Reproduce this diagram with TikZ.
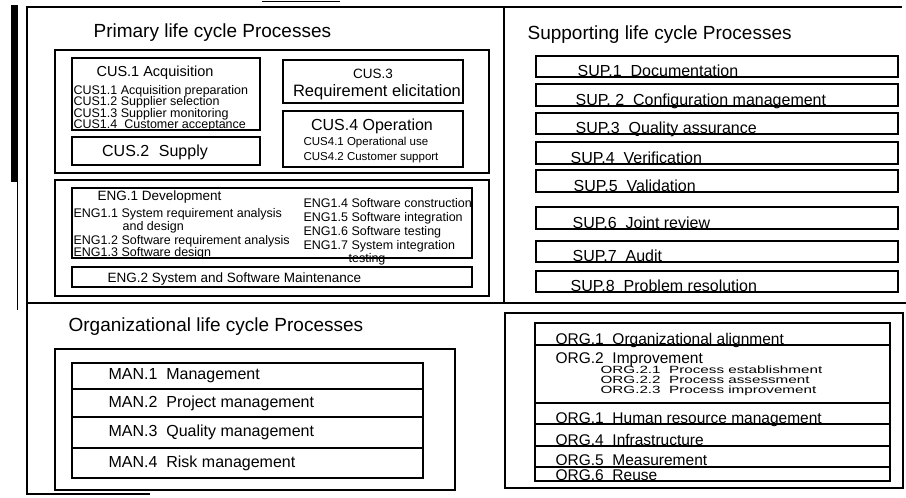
\documentclass[tikz,border=0pt]{standalone}
\usepackage{fontspec}
\setmainfont{Liberation Sans}
\usepackage{graphicx}

\tikzset{
	ttl/.style={font=\fontsize{19}{21}\selectfont, anchor=west, inner sep=0pt},
	big/.style={font=\fontsize{16}{18}\selectfont, inner sep=0pt},
	sml/.style={font=\fontsize{12.5}{14}\selectfont, anchor=base west, inner sep=0pt},
}

\begin{document}
\begin{tikzpicture}[x=1pt, y=-1pt, line width=1.2pt]
		\useasboundingbox (0,0) rectangle (906,498);
		% scan edge
		\fill (11,5) rectangle (18,182);
		\draw[line width=.7pt] (17,182) -- (17,310);
		\draw (262,1.5) -- (340,1.5);
		% frame
		\draw (902,7) -- (27,7) -- (27,494) -- (150,494);
		\draw (504,7) -- (504,303);
		\draw (27,303) -- (906,303);

		% primary
		\node[ttl] (prim) at (93,33) {Primary life cycle Processes};
		\draw (55,50) rectangle (489,173);
		\draw (72,58) rectangle (260,130);
		\node[big, font=\fontsize{14.5}{16}\selectfont] (cus1) at (155,73) {CUS.1 Acquisition};
		\foreach \t [count=\i] in {CUS1.1 Acquisition preparation, CUS1.2 Supplier selection, CUS1.3 Supplier monitoring, CUS1.4~~Customer acceptance}
		{
			\node[sml] (cus1\i) at (73, 82.5+11.5*\i) {\t};
		}
		\draw (72,137) rectangle (260,165);
		\node[big] (cus2) at (155,152) {CUS.2\hspace{.6em}Supply};
		\draw (283,60) rectangle (463,103);
		\node[big, font=\fontsize{13.5}{15}\selectfont] (cus3) at (373,74) {CUS.3};
		\node[big, font=\fontsize{16.5}{18}\selectfont] (req) at (377,92) {Requirement elicitation};
		\draw (283,111) rectangle (463,167);
		\node[big] (cus4) at (372,126) {CUS.4 Operation};
		\node[sml, font=\fontsize{11.5}{13}\selectfont] (cus41) at (303,145) {CUS4.1 Operational use};
		\node[sml, font=\fontsize{11.5}{13}\selectfont] (cus42) at (303,160) {CUS4.2 Customer support};

		\draw (55,180) rectangle (489,296);
		\draw (72,188) rectangle (472,258);
		\node[sml, font=\fontsize{13.5}{15}\selectfont] (eng1) at (97,200) {ENG.1 Development};
		\foreach \x/\y/\t [count=\i] in {73/217/ENG1.1 System requirement analysis, 122/230/and design, 73/244/ENG1.2 Software requirement analysis, 73/256/ENG1.3 Software design, 303/207/ENG1.4 Software construction, 303/221/ENG1.5 Software integration, 303/235/ENG1.6 Software testing, 303/249/ENG1.7 System integration, 348/262/testing}
		{
			\node[sml] (engl\i) at (\x,\y) {\t};
		}
		\draw (72,267) rectangle (472,287);
		\node[sml, font=\fontsize{13.5}{15}\selectfont] (eng2) at (107,282) {ENG.2 System and Software Maintenance};

		% organizational
		\node[ttl] (orgt) at (68,327) {Organizational life cycle Processes};
		\draw (55,349) rectangle (455,490);
		\foreach \a/\b/\t [count=\i] in {363/389/MAN.1~~Management, 389/417/MAN.2~~Project management, 417/448/MAN.3~~Quality management, 448/478/MAN.4~~Risk management}
		{
			\draw (72,\a) rectangle (423,\b);
			\node[big, anchor=west] (man\i) at (108,{(\a+\b)/2}) {\t};
		}

		% supporting
		\node[ttl] (supt) at (527,35) {Supporting life cycle Processes};
		\foreach \a/\b/\x/\t [count=\i] in {56/77/577/SUP.1~~Documentation, 84/106/575/SUP. 2~~Configuration management, 113/134/575/SUP.3~~Quality assurance, 142/164/570/SUP.4~~Verification, 170/192/573/SUP.5~~Validation, 207/229/572/SUP.6~~Joint review, 241/262/572/SUP.7~~Audit, 271/292/570/SUP.8~~Problem resolution}
		{
			\draw (536,\a) rectangle (898,\b);
			\node[big, anchor=base west] (sup\i) at (\x,\b-1) {\t};
		}

		\draw (505,313) rectangle (903,488);
		\foreach \a/\b in {323/345, 345/403, 403/424, 424/446, 446/467, 467/481}
		{
			\draw (535,\a) rectangle (890,\b);
		}
		\foreach \y/\t [count=\i] in {344/ORG.1~~Organizational alignment, 363/ORG.2~~Improvement, 423/ORG.1~~Human resource management, 445/ORG.4~~Infrastructure, 465/ORG.5~~Measurement, 480.5/ORG.6~~Reuse}
		{
			\node[big, font=\fontsize{15.5}{17}\selectfont, anchor=base west] (org\i) at (555,\y) {\t};
		}
		\foreach \y/\t [count=\i] in {373/ORG.2.1~~Process establishment, 383/ORG.2.2~~Process assessment, 393/ORG.2.3~~Process improvement}
		{
			\node[sml, font=\fontsize{10.5}{12}\selectfont] (orgs\i) at (600,\y) {\scalebox{1.45}[1]{\t}};
		}
\end{tikzpicture}
\end{document}
